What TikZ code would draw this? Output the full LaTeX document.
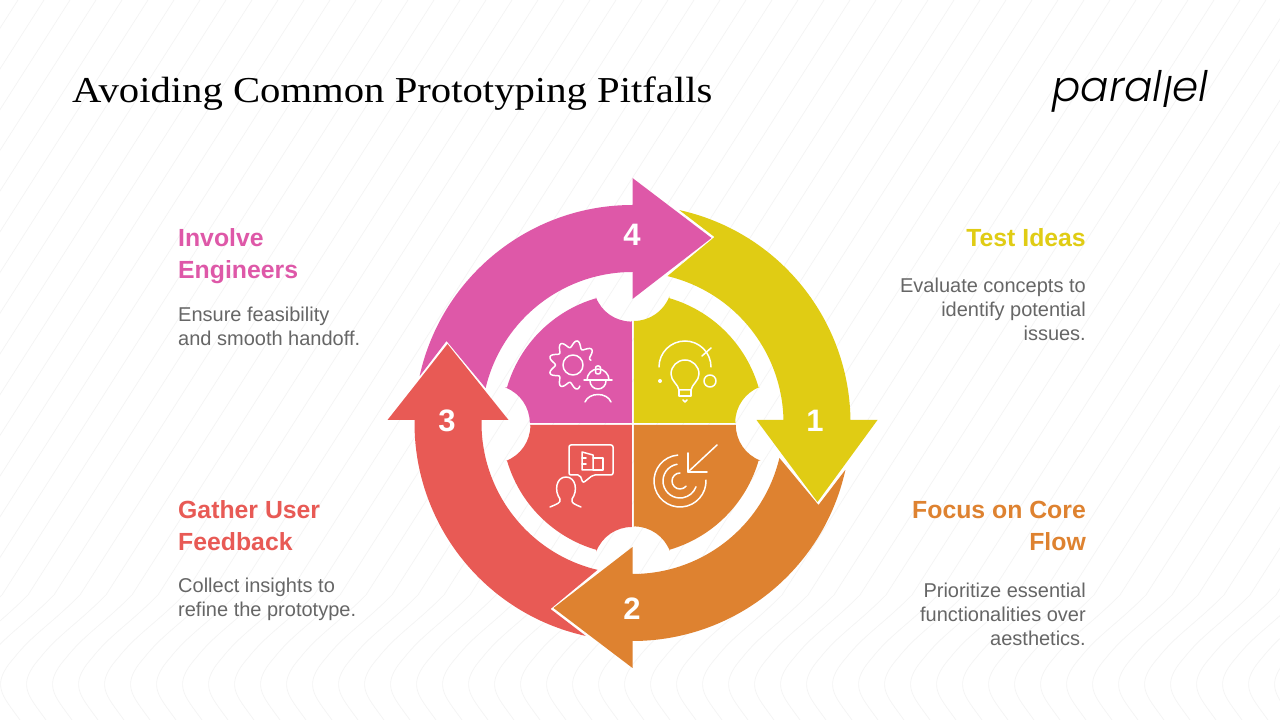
\documentclass[tikz,border=0pt]{standalone}
\usepackage{fontspec}
\setmainfont{Liberation Sans}
\newfontfamily\titlefont[FakeStretch=1.115]{Liberation Serif}
\newfontfamily\logofont[ItalicFont={Poppins Light Italic}]{Poppins Light}
\definecolor{yellowseg}{HTML}{E0CC14}
\definecolor{orangeseg}{HTML}{DE8230}
\definecolor{redseg}{HTML}{E85A55}
\definecolor{pinkseg}{HTML}{DE58A8}
\definecolor{bodygray}{HTML}{666666}
\definecolor{bgline}{HTML}{F4F4F4}
\tikzset{
	headtext/.style={inner sep=0pt, font=\fontsize{24.8}{32}\selectfont\bfseries},
	bodytext/.style={inner sep=0pt, text=bodygray, font=\fontsize{20}{24}\selectfont},
	numtext/.style={inner sep=0pt, text=white, font=\fontsize{31}{31}\selectfont\bfseries},
	iconline/.style={draw=white, line width=1.5pt, line cap=round, line join=round},
}
\begin{document}
\begin{tikzpicture}[x=1pt,y=1pt]
	\useasboundingbox (0,0) rectangle (1280,720);
	\fill[white] (0,0) rectangle (1280,720);

	% faint background lines
	\begin{scope}
		\clip (0,0) rectangle (1280,720);
		\foreach \i in {-500,-474,...,1300}
			\draw[bgline, line width=.7pt] (\i,0) .. controls (\i-18,25) and (\i-30,35) .. (\i-6,62)
				.. controls (\i+12,85) and (\i+30,95) .. (\i+60,125) -- (\i+440,720);
	\end{scope}

	% inner quadrants
	\foreach \ang/\col in {0/yellowseg,-90/orangeseg,180/redseg,90/pinkseg}
		\fill[\col, shift={(632.8,296)}, rotate=\ang] (1,103) arc[start angle=-90,end angle=-20.7,radius=38]
			-- (73.8:131) arc[start angle=73.8,end angle=16.2,radius=131]
			-- (127,37) arc[start angle=110.7,end angle=180,radius=38] -- (103,1) -- (1,1) -- cycle;

	% ring arrows
	\foreach \ang/\col/\by in {0/yellowseg/3,-90/orangeseg/0,180/redseg/-3,90/pinkseg/0}
		\fill[\col, shift={(632.5,297)}, rotate=\ang] (77.6:218) arc[start angle=77.6,end angle=0,radius=218]
			-- (218,\by) -- (245,\by) -- (185,-79) -- (124,\by) -- (151,\by) -- (151,0)
			arc[start angle=0,end angle=76.6,radius=151] -- (82,186) -- cycle;

	\node[numtext] (numOne) at (815,299) {1};
	\node[numtext] (numTwo) at (632,111) {2};
	\node[numtext] (numThree) at (447,299) {3};
	\node[numtext] (numFour) at (632,485) {4};

	% gear and worker
	\begin{scope}[shift={(573,355)}]
		\draw[iconline] (0,0) circle (10);
		\draw[iconline] plot[smooth, domain=15:288, samples=110] ({\x}:{21+3.4*cos(9*\x)});
		\begin{scope}[shift={(25,-15)}]
			\draw[iconline] (-14,0) -- (14,0);
			\draw[iconline] (-11,0) arc[start angle=180,end angle=0,radius=11];
			\draw[iconline, rounded corners=2pt] (-2.5,6) rectangle (2.5,14);
			\draw[iconline] (-8,-1) arc[start angle=180,end angle=360,radius=8];
			\draw[iconline] (-13,-22) .. controls (-9,-12) and (9,-12) .. (13,-22);
		\end{scope}
	\end{scope}

	% bulb
	\begin{scope}[shift={(685,345)}]
		\draw[iconline] (-6,-15) .. controls (-7,-9) and (-14,-6) .. (-14,1) arc[start angle=180,end angle=0,radius=14]
			.. controls (14,-6) and (7,-9) .. (6,-15) -- cycle;
		\draw[iconline] (-6,-15) -- (-6,-21) -- (6,-21) -- (6,-15);
		\draw[iconline] (-2,-25) -- (0,-27) -- (2,-25);
		\draw[iconline] (-26,8) arc[start angle=180,end angle=0,radius=26];
		\draw[iconline] (17,19) -- (26,27);
		\draw[iconline] (25,-6) circle (6);
		\fill[white] (-25,-6) circle (2);
	\end{scope}

	% target
	\begin{scope}[shift={(680,239)}]
		\draw[iconline] (95:26) arc[start angle=95,end angle=362,radius=26];
		\draw[iconline] (100:17) arc[start angle=100,end angle=340,radius=17];
		\draw[iconline] (90:8) arc[start angle=90,end angle=320,radius=8];
		\draw[iconline] (37,36) -- (8,9);
		\draw[iconline] (8,28) -- (8,9) -- (27,9);
	\end{scope}

	% user and speech bubble
	\begin{scope}[shift={(565,232)}]
		\draw[iconline] (-15,-19) .. controls (-8,-16) and (-4,-15) .. (-5,-11) .. controls (-11,-3) and (-9,11) .. (1,11)
			.. controls (11,11) and (13,-3) .. (7,-11) .. controls (6,-15) and (9,-16) .. (16,-19);
		\draw[iconline, rounded corners=2pt] (15,13) -- (4,13) -- (4,43) -- (48,43) -- (48,13) -- (28,13) -- (18,5) -- cycle;
		\draw[iconline] (17,18) -- (17,36) -- (28,33) -- (28,18) -- cycle;
		\draw[iconline] (28,30) -- (38,30) -- (38,18) -- (28,18);
		\draw[iconline] (17,30) -- (21,30);
		\draw[iconline] (17,24) -- (21,24);
	\end{scope}

	% title and logo
	\node[anchor=base west, inner sep=0pt, font=\fontsize{36.5}{38}\titlefont] (titleText) at (72,617) {Avoiding Common Prototyping Pitfalls};
	\node[anchor=base east, inner sep=0pt, font=\fontsize{42}{42}\logofont\itshape] (logoText) at (1208,618) {paral\raisebox{-6pt}{l}el};

	% labels right
	\node[headtext, text=yellowseg, anchor=base east] (headTest) at (1086,473) {Test Ideas};
	\node[bodytext, anchor=base east, align=right] (bodyTest) at (1086,379) {Evaluate concepts to\\identify potential\\issues.};
	\node[headtext, text=orangeseg, anchor=base east, align=right] (headFocus) at (1086,169) {Focus on Core\\Flow};
	\node[bodytext, anchor=base east, align=right] (bodyFocus) at (1086,74) {Prioritize essential\\functionalities over\\aesthetics.};

	% labels left
	\node[headtext, text=pinkseg, anchor=base west, align=left] (headInvolve) at (178,441) {Involve\\Engineers};
	\node[bodytext, anchor=base west, align=left] (bodyInvolve) at (178,374) {Ensure feasibility\\and smooth handoff.};
	\node[headtext, text=redseg, anchor=base west, align=left] (headGather) at (178,169) {Gather User\\Feedback};
	\node[bodytext, anchor=base west, align=left] (bodyGather) at (178,103) {Collect insights to\\refine the prototype.};
\end{tikzpicture}
\end{document}
